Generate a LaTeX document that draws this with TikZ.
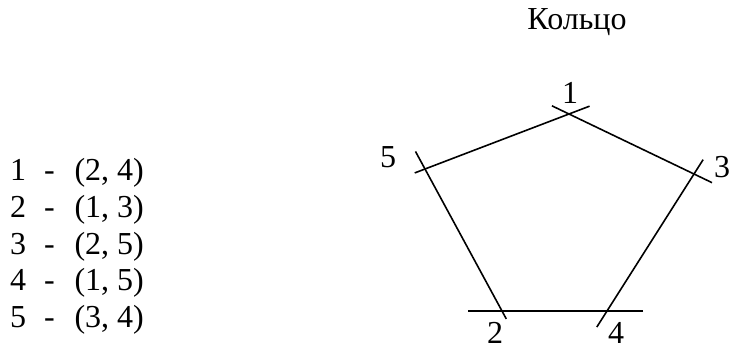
\documentclass[tikz,border=0pt]{standalone}
\usepackage{fontspec}
\setmainfont{Liberation Serif}
\usetikzlibrary{positioning}
\tikzset{
  edge/.style={line width=1.6pt,line cap=butt},
  lbl/.style={font=\fontsize{32}{37}\selectfont,inner sep=0pt,anchor=base},
  row/.style={font=\fontsize{32}{37}\selectfont,inner sep=0pt,anchor=base west},
  ttl/.style={font=\fontsize{32}{37}\selectfont,inner sep=0pt,anchor=base},
}
\newcommand{\pairrow}[2]{#1\hspace{0.56em}-\hspace{0.62em}#2}

\begin{document}
\begin{tikzpicture}[x=1pt,y=-1pt]
  \useasboundingbox (0,0) rectangle (731,349);
  \node[ttl] (title) at (577,29) {Кольцо};
  % list of pairs
  \node[row] (r1) at (10,180) {\pairrow{1}{(2, 4)}};
  \node[row] (r2) at (10,217) {\pairrow{2}{(1, 3)}};
  \node[row] (r3) at (10,254) {\pairrow{3}{(2, 5)}};
  \node[row] (r4) at (10,290) {\pairrow{4}{(1, 5)}};
  \node[row] (r5) at (10,327) {\pairrow{5}{(3, 4)}};
  % ring vertices
  \coordinate (v1) at (569,114);
  \coordinate (v3) at (694,174);
  \coordinate (v4) at (607,311);
  \coordinate (v2) at (502,311);
  \coordinate (v5) at (425,169);
  \draw[edge,shorten <=-11pt,shorten >=-22pt] (v5)--(v1);
  \draw[edge,shorten <=-19pt,shorten >=-20pt] (v1)--(v3);
  \draw[edge,shorten <=-17pt,shorten >=-19pt] (v3)--(v4);
  \draw[edge,shorten <=-36pt,shorten >=-34pt] (v4)--(v2);
  \draw[edge,shorten <=-9pt,shorten >=-20pt] (v2)--(v5);
  \node[lbl] (l1) at (570,103) {1};
  \node[lbl] (l5) at (388,167) {5};
  \node[lbl] (l3) at (722,177) {3};
  \node[lbl] (l2) at (495,343) {2};
  \node[lbl] (l4) at (616,343) {4};
\end{tikzpicture}
\end{document}
